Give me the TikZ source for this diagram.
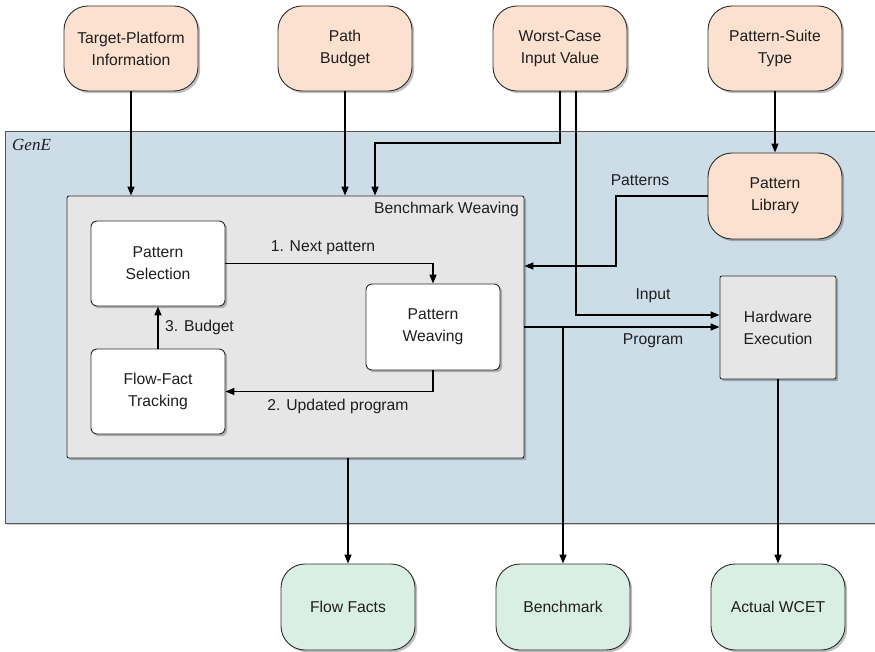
\documentclass[tikz,border=0pt]{standalone}
\usepackage{fontspec}
\setmainfont{Liberation Sans}
\newfontfamily\serifit{Liberation Serif}
\usetikzlibrary{arrows.meta,shadows,calc}
\definecolor{peach}{RGB}{252,225,208}
\definecolor{mint}{RGB}{217,239,227}
\definecolor{genebg}{RGB}{204,221,232}
\definecolor{boxgray}{RGB}{230,230,230}
\definecolor{edge}{RGB}{45,45,45}
\definecolor{txt}{RGB}{30,30,30}
\tikzset{
  shad/.style={drop shadow={shadow xshift=2.2pt,shadow yshift=-2.2pt,fill=black,opacity=.25}},
  base/.style={draw=edge,line width=0.9pt,align=center,inner sep=0pt,text=txt,
    font=\fontsize{15.7}{22}\selectfont,shad},
  inbox/.style={base,fill=peach,rounded corners=24pt,minimum width=134pt,minimum height=85pt},
  outbox/.style={base,fill=mint,rounded corners=24pt,minimum width=134pt,minimum height=86pt},
  whitebox/.style={base,fill=white,rounded corners=6pt,minimum width=134pt,minimum height=85pt},
  graybox/.style={base,fill=boxgray,rounded corners=2pt},
  arr/.style={draw=black,line width=1.6pt,-{Triangle[length=9pt,width=7pt]}},
  lbl/.style={font=\fontsize{15.7}{19}\selectfont,text=txt,inner sep=0pt}
}
\begin{document}
\begin{tikzpicture}[x=1pt,y=-1pt]
\useasboundingbox (0,0) rectangle (875,652);
% GenE region
\fill[black,opacity=.2] (7,133) rectangle (880,525);
\draw[fill=genebg,draw=edge!80,line width=0.9pt] (5,131) rectangle (880,523);
\node[anchor=base west,font=\serifit\itshape\fontsize{17}{20}\selectfont,text=txt,inner sep=0pt] (gene) at (12,151) {GenE};
% Inputs
\node[inbox] (tpi) at (131,48.5) {Target-Platform\\Information};
\node[inbox] (pb) at (345,48.5) {Path\\Budget};
\node[inbox] (wc) at (560,48.5) {Worst-Case\\Input Value};
\node[inbox] (pst) at (775,48.5) {Pattern-Suite\\Type};
\node[inbox,minimum height=86pt] (pl) at (775,196) {Pattern\\Library};
% Benchmark weaving
\node[graybox,minimum width=457pt,minimum height=262pt] (bw) at (295.5,327) {};
\node[lbl,anchor=east] (bwl) at (519,209) {Benchmark Weaving};
\node[whitebox] (ps) at (158,263.5) {Pattern\\Selection};
\node[whitebox] (fft) at (158,391.5) {Flow-Fact\\Tracking};
\node[whitebox,minimum height=86pt] (pw) at (433,327) {Pattern\\Weaving};
% Hardware execution
\node[graybox,minimum width=116pt,minimum height=103pt] (he) at (778,327.5) {Hardware\\Execution};
% Outputs
\node[outbox] (ff) at (348,607) {Flow Facts};
\node[outbox] (bm) at (563,607) {Benchmark};
\node[outbox] (aw) at (778,607) {Actual WCET};
% coordinates
\coordinate (wcA) at (375,143);
\coordinate (wcB) at (576,315);
\coordinate (plB) at (616,266);
% connectors from inputs
\draw[arr] (tpi.south) -- (tpi.south |- bw.north);
\draw[arr] (pb.south) -- (pb.south |- bw.north);
\draw[arr] (wc.south) |- (wcA) -- (wcA |- bw.north);
\draw[arr] (wcB |- wc.south) -- (wcB) -- (wcB -| he.west);
\draw[arr] (pst.south) -- (pl.north);
\draw[arr] (pl.west) -| (plB) -- (plB -| bw.east);
% inner loop
\draw[arr] (ps.east) -| (pw.north);
\draw[arr] (pw.south) |- (fft.east);
\draw[arr] (fft.north) -- (ps.south);
% program
\draw[arr] (bw.east) -- (bw.east -| he.west);
\draw[arr] (bm.north |- bw.east) -- (bm.north);
% outputs
\draw[arr] (ff.north |- bw.south) -- (ff.north);
\draw[arr] (he.south) -- (aw.north);
% labels
\node[lbl] (l1) at (323,248) {1. Next pattern};
\node[lbl] (l2) at (338,406) {2. Updated program};
\node[lbl,anchor=west] (l3) at (165,327) {3. Budget};
\node[lbl] (lp) at (640,180) {Patterns};
\node[lbl] (li) at (653,296) {Input};
\node[lbl] (lpr) at (653,341) {Program};
\end{tikzpicture}
\end{document}
